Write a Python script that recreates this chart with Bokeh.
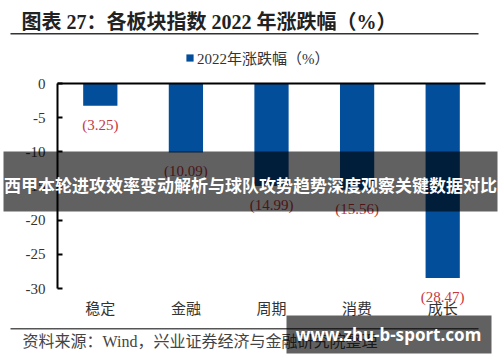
from bokeh.plotting import figure
from bokeh.models import (ColumnDataSource, Range1d, Label, BoxAnnotation,
                          Legend, LegendItem, FixedTicker, LinearAxis)
from bokeh.core.properties import value
from bokeh.embed import file_html
from bokeh.resources import INLINE

# ---- data ----
categories = ["稳定", "金融", "周期", "消费", "成长"]
changes = [-3.25, -10.09, -14.99, -15.56, -28.47]
y_ticks = [0, -5, -10, -15, -20, -25, -30]
y_tick_labels = ["0", "-5", "-10", "-15", "-20", "-25", "-30"]
series_name = "2022年涨跌幅（%）"
title_text = "图表 27：各板块指数 2022 年涨跌幅（%）"
source_text = "资料来源：Wind，兴业证券经济与金融研究院整理"
banner_text = "西甲本轮进攻效率变动解析与球队攻势趋势深度观察关键数据对比"
watermark_text = "www.zhu-b-sport.com"

# ---- style / layout ----
W, H = 500, 362
PLOT_L, PLOT_R, PLOT_T, PLOT_B = 57, 485, 83, 288   # chart area in canvas px
BLUE = "#024e9a"
RED = "#c8383c"
SERIF = "Liberation Serif, Noto Sans CJK SC"
CJK = "Noto Sans CJK SC"

n = len(categories)
y_lo, y_hi = min(y_ticks), max(y_ticks)
px_per_cat = (PLOT_R - PLOT_L) / n
px_per_unit = (PLOT_B - PLOT_T) / (y_hi - y_lo)
x_start = -0.5 - PLOT_L / px_per_cat
x_end = n - 0.5 + (W - PLOT_R) / px_per_cat
y_start = y_lo - (H - PLOT_B) / px_per_unit
y_end = y_hi + PLOT_T / px_per_unit

xs = list(range(n))
src = ColumnDataSource(dict(
    x=xs,
    val=changes,
    lab=[f"({abs(v):.2f})" for v in changes],
))

p = figure(width=W, height=H,
           x_range=Range1d(x_start, x_end), y_range=Range1d(y_start, y_end),
           x_axis_location=None, y_axis_location=None,
           output_backend="svg", toolbar_location=None,
           min_border=0, min_border_left=0, min_border_right=0,
           min_border_top=0, min_border_bottom=0)
p.outline_line_color = None
p.grid.visible = False
p.background_fill_color = "white"
p.border_fill_color = "white"

r = p.vbar(x="x", top="val", bottom=0, width=0.4, fill_color=BLUE,
           line_color=None, source=src)

p.text(x="x", y="val", text="lab", source=src, text_align="center",
       text_baseline="middle", y_offset=19, text_color=RED,
       text_font=value(SERIF), text_font_size="15px")

# y axis
ya = LinearAxis(fixed_location=-0.5, bounds=(y_lo, y_hi),
                ticker=FixedTicker(ticks=y_ticks),
                major_label_overrides=dict(zip(y_ticks, y_tick_labels)))
ya.axis_line_color = "black"
ya.axis_line_width = 2
ya.major_tick_in = 5
ya.major_tick_out = 0
ya.major_tick_line_width = 2
ya.minor_tick_line_color = None
ya.major_label_standoff = 12
ya.major_label_text_font = SERIF
ya.major_label_text_font_size = "15px"
ya.major_label_text_color = "#333333"
p.add_layout(ya, "left")

# x axis (category labels at bottom)
xa = LinearAxis(fixed_location=y_lo, ticker=FixedTicker(ticks=xs),
                major_label_overrides=dict(zip(xs, categories)))
xa.axis_line_color = None
xa.major_tick_line_color = None
xa.minor_tick_line_color = None
xa.major_label_standoff = 2
xa.major_label_text_font = CJK
xa.major_label_text_font_size = "15px"
xa.major_label_text_color = "#333333"
p.add_layout(xa, "below")

# zero line (category axis line at the top)
za = LinearAxis(fixed_location=0, bounds=(-0.5, n - 0.5), ticker=FixedTicker(ticks=[]))
za.axis_line_color = "black"
za.axis_line_width = 2
za.major_tick_line_color = None
za.minor_tick_line_color = None
za.major_label_text_color = None
p.add_layout(za, "above")

# legend
leg = Legend(items=[LegendItem(label=series_name, renderers=[r])],
             location=(185, 294), orientation="horizontal",
             border_line_color=None, background_fill_alpha=0,
             padding=0, margin=0, glyph_width=9, glyph_height=9,
             label_standoff=3, label_text_font=SERIF,
             label_text_font_size="15px", label_text_color="#333333",
             label_height=14)
p.add_layout(leg)

U = dict(x_units="canvas", y_units="canvas")
B = dict(left_units="canvas", right_units="canvas", bottom_units="canvas", top_units="canvas")

# title and rules
p.add_layout(Label(x=21, y=21, text=title_text, text_baseline="middle",
                   text_font=SERIF, text_font_size="20px",
                   text_font_style="bold", text_color="#222222", **U))
p.add_layout(BoxAnnotation(left=10, right=478, top=32.5, bottom=34,
                           fill_color="#333333", fill_alpha=1, line_color=None, **B))
p.add_layout(BoxAnnotation(left=10, right=478, top=327.5, bottom=329,
                           fill_color="#555555", fill_alpha=1, line_color=None, **B))
p.add_layout(Label(x=22, y=341, text=source_text, text_baseline="middle",
                   text_font=SERIF, text_font_size="16px", text_color="#444444", **U))

# banner overlay
p.add_layout(BoxAnnotation(left=3, right=497, top=151, bottom=211,
                           fill_color="black", fill_alpha=0.62, line_color=None, **B))
p.add_layout(Label(x=250, y=184, text=banner_text, text_align="center",
                   text_baseline="middle", text_font=CJK, text_font_size="17px",
                   text_font_style="bold", text_color="white", **U))

# watermark
p.add_layout(BoxAnnotation(left=286, right=491, top=315, bottom=353,
                           fill_color="black", fill_alpha=0.62, line_color=None, **B))
p.add_layout(Label(x=388, y=334, text=watermark_text, text_align="center",
                   text_baseline="middle", text_font="Noto Sans", text_font_size="17px",
                   text_font_style="bold", text_color="white", **U))

open("out.html", "w").write(file_html(p, INLINE))
